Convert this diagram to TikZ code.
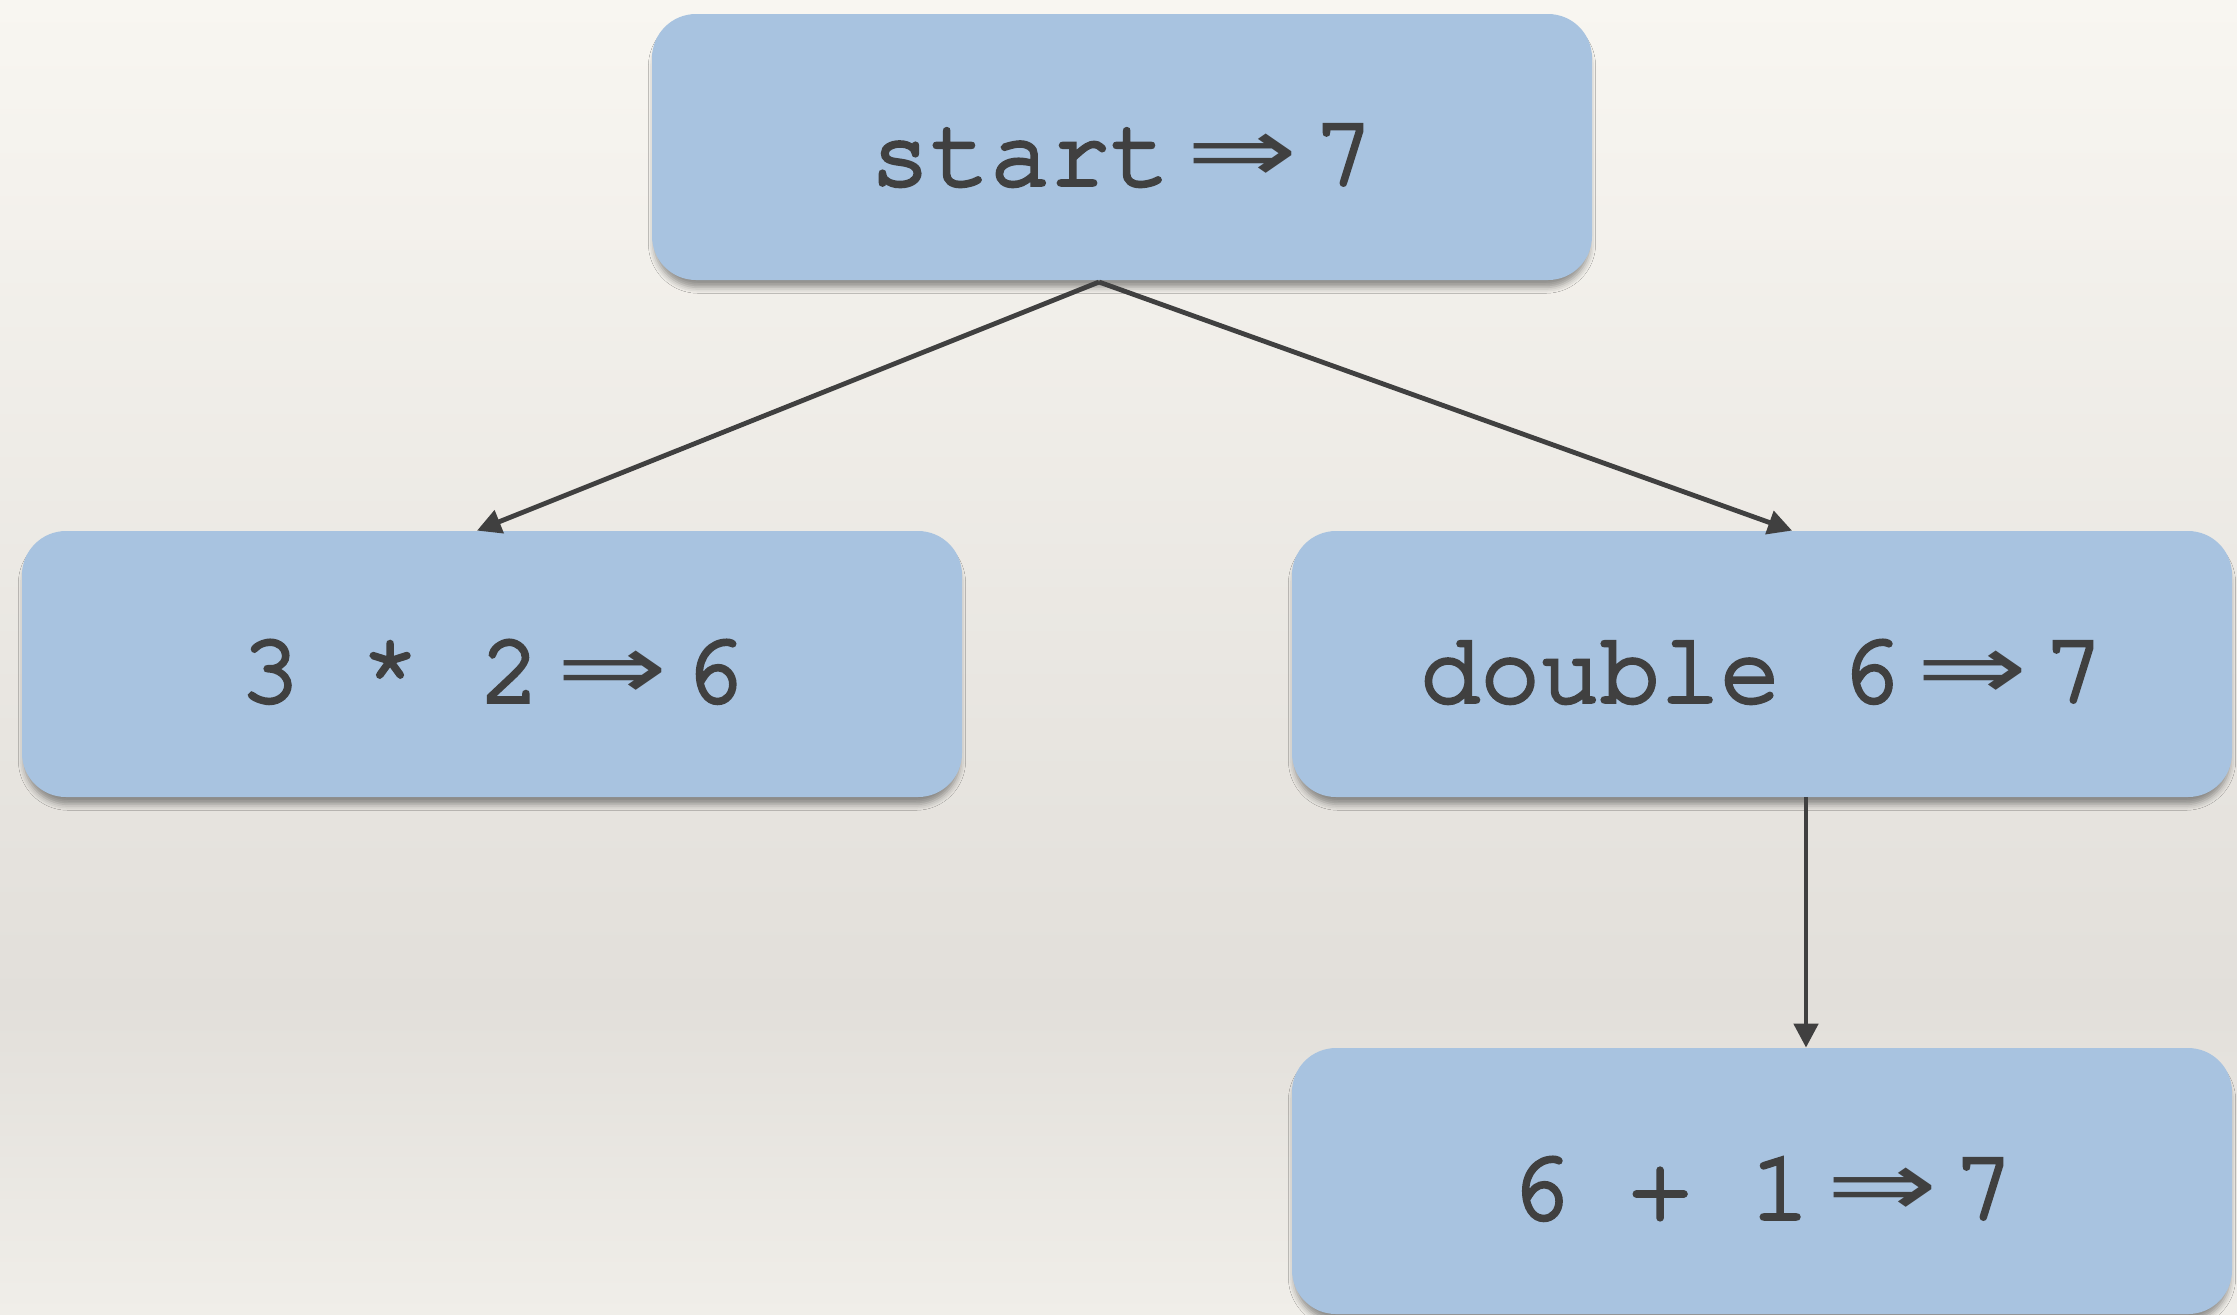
\RequirePackage{fix-cm}
\documentclass[tikz,border=0pt]{standalone}
\usepackage{fontspec}
\usepackage{graphicx}
\newfontfamily\codefont{texgyrecursor-regular.otf}[FakeBold=3.5]
\newfontfamily\symfont{DejaVu Sans}
\usetikzlibrary{arrows.meta,shadows.blur,calc}

\definecolor{boxblue}{HTML}{A8C3E0}
\definecolor{ink}{HTML}{404040}
\definecolor{papertop}{HTML}{F8F6F1}
\definecolor{papermid}{HTML}{E2DFDA}
\definecolor{paperbot}{HTML}{F0EEE9}

% evaluation step: expression, then its value
\newcommand\yields[2]{{\codefont #1}\hspace{0.16em}%
  \raisebox{0.03em}{\scalebox{1.45}[1]{\symfont\fontsize{46}{52}\selectfont ⇒}}%
  \hspace{0.16em}{\codefont #2}}

\begin{document}
\begin{tikzpicture}[x=0.5pt,y=-0.5pt,
  stepbox/.style={rounded corners=22pt, fill=boxblue,
    minimum width=470pt, minimum height=133pt, inner sep=0pt,
    text height=40pt, text depth=2pt,
    text=ink, font=\fontsize{50}{58}\selectfont,
    blur shadow={shadow xshift=0pt, shadow yshift=-4pt,
      shadow blur radius=3pt, shadow opacity=40, shadow scale=0.995}},
  link/.style={draw=ink, line width=2.4pt,
    -{Triangle[length=12pt,width=12pt]}}]

  % paper background
  \useasboundingbox (0,0) rectangle (2237,1314);
  \clip (0,0) rectangle (2237,1314);
  \fill[top color=papertop, bottom color=papermid] (0,0) rectangle (2237,1000);
  \fill[top color=papermid, bottom color=paperbot] (0,999) rectangle (2237,1314);

  % evaluation tree
  \node[stepbox] (top)    at (1122,147)  {\yields{start}{7}};
  \node[stepbox] (left)   at (492,664)   {\yields{3 * 2}{6}};
  \node[stepbox] (right)  at (1762,664)  {\yields{double 6}{7}};
  \node[stepbox] (bottom) at (1762,1181) {\yields{6 + 1}{7}};

  \coordinate (fork) at (1099,282);
  \draw[link] (fork) -- ($(left.north)+(-15,0)$);
  \draw[link] (fork) -- ($(right.north)+(30,0)$);
  \draw[link] ($(right.south)+(44,0)$) -- ($(bottom.north)+(44,0)$);
\end{tikzpicture}
\end{document}
